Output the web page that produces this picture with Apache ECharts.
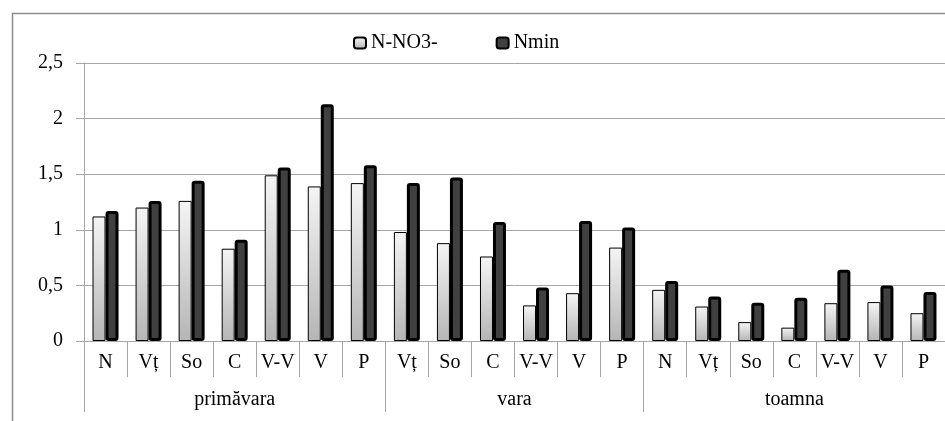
<!DOCTYPE html>
<html>
<head>
<meta charset="utf-8">
<script src="https://cdn.jsdelivr.net/npm/echarts@6/dist/echarts.min.js"></script>
<style>
html,body{margin:0;padding:0;background:#fff;}
#chart{width:945px;height:421px;}
</style>
</head>
<body>
<div id="chart"></div>
<script>
// ---- data ----
const categories = ['N','Vț','So','C','V-V','V','P','Vț','So','C','V-V','V','P','N','Vț','So','C','V-V','V','P'];
const groupNames = ['primăvara','vara','toamna'];
const groupSizes = [7,6,7];
const seriesNames = ['N-NO3-','Nmin'];
const nno3 = [1.12,1.20,1.26,0.83,1.49,1.39,1.42, 0.98,0.88,0.76,0.32,0.43,0.84, 0.46,0.31,0.17,0.12,0.34,0.35,0.25];
const nmin = [1.17,1.26,1.44,0.91,1.56,2.13,1.58, 1.42,1.47,1.07,0.48,1.08,1.02, 0.54,0.40,0.345,0.39,0.64,0.50,0.44];
const yTicks = [0,0.5,1,1.5,2,2.5];

// ---- group axis helpers ----
const groupStarts = [];
let acc = 0;
groupSizes.forEach(s => { groupStarts.push(acc); acc += s; });
const groupLabelAt = {};
groupSizes.forEach((s, g) => {
  const st = groupStarts[g];
  if (s % 2 === 1) groupLabelAt[st + (s - 1) / 2] = { name: groupNames[g], shift: false };
  else groupLabelAt[st + s / 2 - 1] = { name: groupNames[g], shift: true };
});
const groupData = categories.map((c, i) => String(i));

const font = '"Liberation Serif", "Times New Roman", serif';
const fs = 20;
const gray = '#a6a6a6';

const chart = echarts.init(document.getElementById('chart'), null, {renderer: 'canvas'});
chart.setOption({
  animation: false,
  backgroundColor: '#fff',
  graphic: [{
    type: 'rect', left: 10, top: 11, silent: true,
    shape: { width: 1000, height: 500 },
    style: { fill: 'none', stroke: '#8c8c8c', lineWidth: 1.5 }
  }],
  legend: {
    left: 348, top: 28, itemWidth: 12, itemHeight: 11, itemGap: 58,
    textStyle: { fontFamily: font, fontSize: fs, color: '#000' },
    data: seriesNames
  },
  grid: { left: 84, top: 63, width: 863, height: 278, containLabel: false },
  xAxis: [{
    type: 'category', data: categories, position: 'bottom',
    axisLine: { show: true, lineStyle: { color: gray, width: 1 } },
    axisTick: { show: true, interval: 0, length: 36, lineStyle: { color: gray } },
    axisLabel: { interval: 0, margin: 12, fontFamily: font, fontSize: fs, color: '#000' },
    splitLine: { show: false }
  }, {
    type: 'category', data: groupData, position: 'bottom', offset: 0,
    axisLine: { show: false },
    axisTick: { show: true, length: 71, lineStyle: { color: gray },
      interval: (idx) => groupStarts.indexOf(idx) >= 0 },
    axisLabel: {
      interval: 0, margin: 49, fontFamily: font, fontSize: fs, color: '#000',
      formatter: (v, idx) => {
        const g = groupLabelAt[idx];
        if (!g) return '';
        return g.shift ? '{s|' + g.name + '}' : g.name;
      },
      rich: { s: { padding: [0, 0, 0, 43], fontFamily: font, fontSize: fs, color: '#000' } }
    },
    splitLine: { show: false }
  }],
  yAxis: {
    type: 'value', min: 0, max: 2.5, interval: 0.5,
    axisLine: { show: true, lineStyle: { color: gray, width: 1 } },
    axisTick: { show: true, length: 8, lineStyle: { color: gray } },
    axisLabel: { margin: 21, fontFamily: font, fontSize: fs, color: '#000',
      formatter: v => yTicks.indexOf(v) >= 0 ? String(v).replace('.', ',') : '' },
    splitLine: { show: true, lineStyle: { color: gray, width: 1 } }
  },
  series: [{
    name: seriesNames[0], type: 'bar', xAxisIndex: 0, data: nno3,
    barWidth: 13, barGap: '0%',
    itemStyle: {
      color: new echarts.graphic.LinearGradient(0, 0, 0, 1, [
        { offset: 0, color: '#f5f5f5' }, { offset: 1, color: '#b5b5b5' }
      ]),
      borderColor: '#000', borderWidth: 1
    }
  }, {
    name: seriesNames[1], type: 'bar', xAxisIndex: 0, data: nmin,
    barWidth: 13, barGap: '0%',
    itemStyle: { color: '#404040', borderColor: '#000', borderWidth: 3, borderRadius: 1.5 }
  }]
});
</script>
</body>
</html>
